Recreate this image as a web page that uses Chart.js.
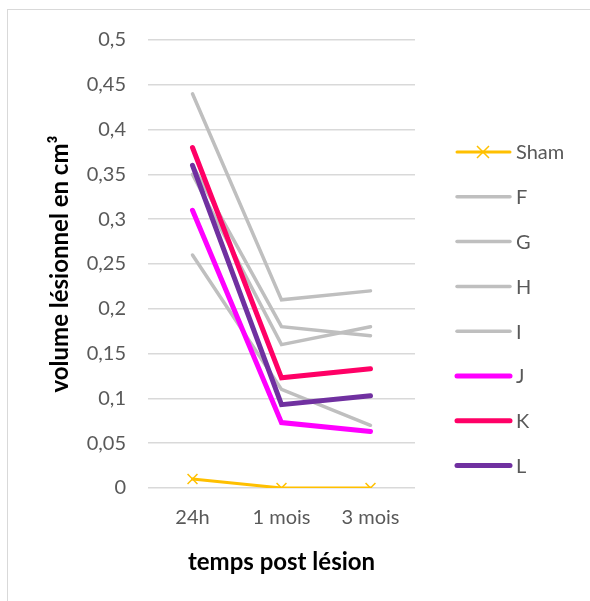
<!DOCTYPE html>
<html>
<head>
<meta charset="utf-8">
<script src="https://cdn.jsdelivr.net/npm/chart.js@4.4.1/dist/chart.umd.min.js"></script>
<style>
  html, body { margin: 0; padding: 0; background: #fff; }
  #cadre { position: absolute; left: 7px; top: 9px; width: 600px; height: 610px;
           border-left: 1.5px solid #D9D9D9; border-top: 1.5px solid #D9D9D9; }
  #zone { position: absolute; left: 0; top: 0; width: 590px; height: 601px; }
</style>
</head>
<body>
<div id="cadre"></div>
<div id="zone"><canvas id="myChart" width="590" height="601"></canvas></div>
<script>
// donnees du graphique
var temps = ['24h', '1 mois', '3 mois'];
var series = ['Sham', 'F', 'G', 'H', 'I', 'J', 'K', 'L'];
var sham = [0.01, 0, 0];
var valF = [0.44, 0.21, 0.22];
var valG = [0.36, 0.18, 0.17];
var valH = [0.35, 0.16, 0.18];
var valI = [0.26, 0.11, 0.07];
var valJ = [0.31, 0.073, 0.063];
var valK = [0.38, 0.123, 0.133];
var valL = [0.36, 0.093, 0.103];
var couleurs = ['#FFC000', '#BFBFBF', '#BFBFBF', '#BFBFBF', '#BFBFBF', '#FF00FF', '#FF0066', '#7030A0'];
var epaisseurs = [3, 3.5, 3.5, 3.5, 3.5, 5, 5, 5];

var valeurs = [sham, valF, valG, valH, valI, valJ, valK, valL];
var police = 'Lato, "Open Sans", sans-serif';
var gris = '#595959';

var datasets = [];
for (var i = 0; i < series.length; i++) {
    datasets.push({
        label: series[i],
        data: valeurs[i],
        borderColor: couleurs[i],
        backgroundColor: couleurs[i],
        borderWidth: epaisseurs[i],
        pointRadius: i == 0 ? 7 : 0,
        pointStyle: 'crossRot',
        pointBorderWidth: 1.5,
        borderCapStyle: 'round',
        borderJoinStyle: 'miter',
        tension: 0,
        order: series.length - i
    });
}

// legende dessinee a la main
var legende = {
    id: 'legende',
    afterDraw: function(chart) {
        var ctx = chart.ctx;
        ctx.save();
        for (var i = 0; i < series.length; i++) {
            var y = 152 + i * 44.8;
            ctx.strokeStyle = couleurs[i];
            ctx.lineWidth = epaisseurs[i];
            ctx.lineCap = 'round';
            ctx.beginPath();
            ctx.moveTo(457, y);
            ctx.lineTo(510, y);
            ctx.stroke();
            if (i == 0) {
                ctx.lineWidth = 1.5;
                ctx.lineCap = 'butt';
                ctx.beginPath();
                ctx.moveTo(477, y - 6); ctx.lineTo(489, y + 6);
                ctx.moveTo(489, y - 6); ctx.lineTo(477, y + 6);
                ctx.stroke();
            }
            ctx.fillStyle = gris;
            ctx.font = '20px ' + police;
            ctx.textBaseline = 'middle';
            ctx.fillText(series[i], 516, y + 1);
        }
        ctx.restore();
    }
};

var newChar = document.getElementById('myChart');
var charGrafico = new Chart(newChar, {
    type: 'line',
    data: { labels: temps, datasets: datasets },
    plugins: [legende],
    options: {
        responsive: false,
        animation: false,
        layout: { padding: { left: 10, right: 175, top: 40, bottom: 20 } },
        plugins: { legend: { display: false }, tooltip: { enabled: false } },
        scales: {
            x: {
                offset: true,
                grid: { display: false, drawTicks: false },
                border: { display: false },
                ticks: { color: gris, font: { family: police, size: 20 }, padding: 18 },
                title: { display: true, text: 'temps post lésion', color: '#000',
                         font: { family: police, size: 24, weight: 'bold' }, padding: { top: 8 } },
                afterFit: function(scale) { scale.height = 93; }
            },
            y: {
                min: 0, max: 0.5,
                grid: { color: '#D9D9D9', lineWidth: 1.5, drawTicks: false },
                border: { display: false },
                ticks: {
                    stepSize: 0.05, color: gris, padding: 22,
                    font: { family: police, size: 20 },
                    callback: function(v) { return String(Math.round(v * 100) / 100).replace('.', ','); }
                },
                title: { display: true, text: 'volume lésionnel en cm³', color: '#000',
                         font: { family: police, size: 24, weight: 'bold' }, padding: { top: 36, bottom: 0 } },
                afterFit: function(scale) { scale.width = 138; }
            }
        }
    }
});
</script>
</body>
</html>
